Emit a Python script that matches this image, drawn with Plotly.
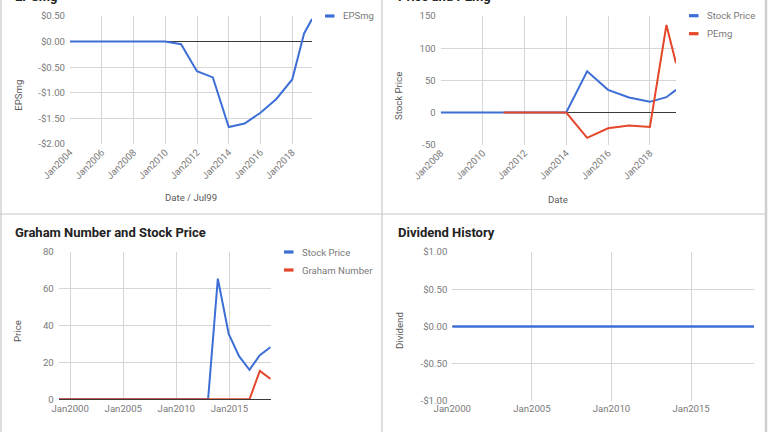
import plotly.graph_objects as go

W, H = 768, 432

# ---------------- data ----------------
# Panel 1: EPSmg
eps_dates = ["2003-12-31", "2004-12-31", "2005-12-31", "2006-12-31", "2007-12-31",
             "2008-12-31", "2009-12-31", "2010-12-31", "2011-12-31", "2012-12-31",
             "2013-12-31", "2014-12-31", "2015-12-31", "2016-12-31", "2017-12-31",
             "2018-09-30", "2019-03-31"]
eps_values = [0, 0, 0, 0, 0, 0, 0, -0.05, -0.58, -0.70, -1.67, -1.60, -1.39, -1.12,
              -0.74, 0.16, 0.44]
eps_yticks = [0.5, 0.0, -0.5, -1.0, -1.5, -2.0]
eps_yticklabels = ["$0.50", "$0.00", "-$0.50", "-$1.00", "-$1.50", "-$2.00"]
eps_xticks = ["2004-01-01", "2006-01-01", "2008-01-01", "2010-01-01", "2012-01-01",
              "2014-01-01", "2016-01-01", "2018-01-01"]
eps_xticklabels = ["Jan2004", "Jan2006", "Jan2008", "Jan2010", "Jan2012",
                   "Jan2014", "Jan2016", "Jan2018"]

# Panel 2: Price and PEmg
price2_dates = ["2007-12-31", "2008-12-31", "2009-12-31", "2010-12-31", "2011-12-31",
                "2012-12-31", "2013-12-31", "2014-12-31", "2015-12-31", "2016-12-31",
                "2017-12-31", "2018-10-15", "2019-03-31"]
price2_values = [0, 0, 0, 0, 0, 0, 0, 64.0, 35.2, 23.3, 16.6, 23.8, 35.2]
pe_dates = ["2010-12-31", "2011-12-31", "2012-12-31", "2013-12-31", "2014-12-31",
            "2015-12-31", "2016-12-31", "2017-12-31", "2018-10-15", "2019-03-31"]
pe_values = [0, 0, 0, 0, -39.4, -24.4, -20.2, -22.3, 136.0, 76.7]
pe_yticks = [150, 100, 50, 0, -50]
pe_yticklabels = ["150", "100", "50", "0", "-50"]
pe_xticks = ["2008-01-01", "2010-01-01", "2012-01-01", "2014-01-01", "2016-01-01",
             "2018-01-01"]
pe_xticklabels = ["Jan2008", "Jan2010", "Jan2012", "Jan2014", "Jan2016", "Jan2018"]

# Panel 3: Graham Number and Stock Price
g_dates = ["1998-12-01", "1999-12-31", "2000-12-31", "2001-12-31", "2002-12-31",
           "2003-12-31", "2004-12-31", "2005-12-31", "2006-12-31", "2007-12-31",
           "2008-12-31", "2009-12-31", "2010-12-31", "2011-12-31", "2012-12-31",
           "2013-12-01", "2014-12-10", "2015-12-01", "2016-11-25", "2017-11-15",
           "2018-11-25"]
price3_values = [0, 0, 0, 0, 0, 0, 0, 0, 0, 0, 0, 0, 0, 0, 0,
                 65.5, 35.5, 23.4, 16.0, 24.0, 28.4]
graham_values = [0, 0, 0, 0, 0, 0, 0, 0, 0, 0, 0, 0, 0, 0, 0,
                 0, 0, 0, 0, 15.4, 11.0]
g_yticks = [0, 20, 40, 60, 80]
g_yticklabels = ["0", "20", "40", "60", "80"]
g_xticks = ["2000-01-01", "2005-01-01", "2010-01-01", "2015-01-01"]
g_xticklabels = ["Jan2000", "Jan2005", "Jan2010", "Jan2015"]

# Panel 4: Dividend History
div_dates = ["2000-01-01", "2001-01-01", "2002-01-01", "2003-01-01", "2004-01-01",
             "2005-01-01", "2006-01-01", "2007-01-01", "2008-01-01", "2009-01-01",
             "2010-01-01", "2011-01-01", "2012-01-01", "2013-01-01", "2014-01-01",
             "2015-01-01", "2016-01-01", "2017-01-01", "2018-01-01", "2018-12-15"]
div_values = [0] * 20
div_yticks = [1.0, 0.5, 0.0, -0.5, -1.0]
div_yticklabels = ["$1.00", "$0.50", "$0.00", "-$0.50", "-$1.00"]
div_xticks = ["2000-01-01", "2005-01-01", "2010-01-01", "2015-01-01"]
div_xticklabels = ["Jan2000", "Jan2005", "Jan2010", "Jan2015"]

titles = ["EPSmg", "Price and PEmg", "Graham Number and Stock Price", "Dividend History"]
series_names = {"eps": "EPSmg", "price": "Stock Price", "pe": "PEmg", "graham": "Graham Number",
                "div": "Dividend"}

# ---------------- style ----------------
BLUE = "#3d6fd6"
RED = "#e4472a"
GRID = "#d6d6d6"
TICK = "#7a7a7a"
AX_T = "#5a5a5a"
FONT = "Roboto"
FS = 9.6


def px(x):
    return x / W


def py(y):
    return 1 - y / H


fig = go.Figure()

fig.add_trace(go.Scatter(x=eps_dates, y=eps_values, mode="lines", name=series_names["eps"],
                         line=dict(color=BLUE, width=2), xaxis="x", yaxis="y"))
fig.add_trace(go.Scatter(x=price2_dates, y=price2_values, mode="lines", name=series_names["price"],
                         line=dict(color=BLUE, width=2), xaxis="x2", yaxis="y2"))
fig.add_trace(go.Scatter(x=pe_dates, y=pe_values, mode="lines", name=series_names["pe"],
                         line=dict(color=RED, width=2), xaxis="x2", yaxis="y2"))
fig.add_trace(go.Scatter(x=g_dates, y=price3_values, mode="lines", name=series_names["price"],
                         line=dict(color=BLUE, width=2), xaxis="x3", yaxis="y3"))
fig.add_trace(go.Scatter(x=g_dates, y=graham_values, mode="lines", name=series_names["graham"],
                         line=dict(color=RED, width=2), xaxis="x3", yaxis="y3"))
fig.add_trace(go.Scatter(x=div_dates, y=div_values, mode="lines", name=series_names["div"],
                         line=dict(color=BLUE, width=2.5), xaxis="x4", yaxis="y4"))


def xaxis(dom, rng, tv, tt, angle, anchor):
    return dict(domain=[px(dom[0]), px(dom[1])], range=rng, type="date",
                tickvals=tv, ticktext=tt, tickangle=angle, anchor=anchor, automargin=False,
                showgrid=True, gridcolor=GRID, gridwidth=1, zeroline=False, showline=False,
                ticks="", tickfont=dict(family=FONT, size=FS, color=TICK), fixedrange=True)


def yaxis(dom, rng, tv, tt, anchor, zl=True):
    return dict(domain=[py(dom[1]), py(dom[0])], range=rng, tickvals=tv, ticktext=tt,
                anchor=anchor, automargin=False, showgrid=True, gridcolor=GRID, gridwidth=1,
                zeroline=zl, zerolinecolor="#3a3a3a", zerolinewidth=1, showline=False,
                ticks="", ticklabelstandoff=4,
                tickfont=dict(family=FONT, size=FS, color=TICK), fixedrange=True)


fig.update_layout(
    width=W, height=H, margin=dict(l=0, r=0, t=0, b=0, autoexpand=False),
    paper_bgcolor="white", plot_bgcolor="white", showlegend=False,
    font=dict(family=FONT, size=FS, color=TICK),
    xaxis=xaxis((70, 312), ["2004-01-01", "2019-03-31"], eps_xticks, eps_xticklabels, -45, "y"),
    yaxis=yaxis((16, 144), [-2.0, 0.5], eps_yticks, eps_yticklabels, "x"),
    xaxis2=xaxis((440.7, 676), ["2008-01-01", "2019-03-31"], pe_xticks, pe_xticklabels, -45, "y2"),
    yaxis2=yaxis((16, 144.7), [-50, 150], pe_yticks, pe_yticklabels, "x2"),
    xaxis3=xaxis((58.7, 270.7), ["1998-12-01", "2018-11-25"], g_xticks, g_xticklabels, 0, "y3"),
    yaxis3=yaxis((252, 399.3), [0, 80], g_yticks, g_yticklabels, "x3"),
    xaxis4=xaxis((452.3, 754), ["2000-01-01", "2018-12-15"], div_xticks, div_xticklabels, 0, "y4"),
    yaxis4=yaxis((252, 401), [-1.0, 1.0], div_yticks, div_yticklabels, "x4"),
)
fig.update_layout(xaxis3=dict(showline=True, linecolor="#3a3a3a", linewidth=1))

ann = []
shapes = []

for t, (x, y) in zip(titles, [(13, -3.3), (395.7, -3.3), (13.3, 232.7), (395.7, 232.7)]):
    ann.append(dict(text="<b>%s</b>" % t, x=px(x), y=py(y), xref="paper", yref="paper",
                    xanchor="left", yanchor="middle", showarrow=False,
                    font=dict(family=FONT, size=13, color="#222222")))

axis_titles = [
    ("EPSmg", 17.7, 95, -90), ("Date / Jul99", 190.7, 198, 0),
    ("Stock Price", 398, 96, -90), ("Date", 558, 199, 0),
    ("Price", 17.5, 331.5, -90), ("Date", 164, 436, 0),
    ("Dividend", 399, 331, -90), ("Year", 605, 436, 0),
]
for t, x, y, a in axis_titles:
    ann.append(dict(text=t, x=px(x), y=py(y), xref="paper", yref="paper", textangle=a,
                    xanchor="center", yanchor="middle", showarrow=False,
                    font=dict(family=FONT, size=FS, color=AX_T)))

legends = [
    (series_names["eps"], BLUE, 325, 16),
    (series_names["price"], BLUE, 689, 15.7), (series_names["pe"], RED, 689, 33.7),
    (series_names["price"], BLUE, 284, 252), (series_names["graham"], RED, 284, 270),
]
for name, c, x, y in legends:
    shapes.append(dict(type="rect", xref="paper", yref="paper", x0=px(x), x1=px(x + 9.5),
                       y0=py(y + 1.6), y1=py(y - 1.6), fillcolor=c, line=dict(width=0)))
    ann.append(dict(text=name, x=px(x + 16), y=py(y), xref="paper", yref="paper",
                    xanchor="left", yanchor="middle", showarrow=False,
                    font=dict(family=FONT, size=FS, color=TICK)))

BORDER = "#c8c8c8"
shapes += [
    dict(type="line", xref="paper", yref="paper", x0=px(382), x1=px(382), y0=0, y1=1,
         line=dict(color=BORDER, width=1.2)),
    dict(type="line", xref="paper", yref="paper", x0=0, x1=px(766), y0=py(214), y1=py(214),
         line=dict(color=BORDER, width=1.2)),
    dict(type="line", xref="paper", yref="paper", x0=px(1), x1=px(1), y0=0, y1=1,
         line=dict(color=BORDER, width=1.2)),
    dict(type="line", xref="paper", yref="paper", x0=px(766), x1=px(766), y0=0, y1=1,
         line=dict(color="#cfcfcf", width=2.5)),
]

fig.update_layout(annotations=ann, shapes=shapes)
fig.write_html("out.html")
